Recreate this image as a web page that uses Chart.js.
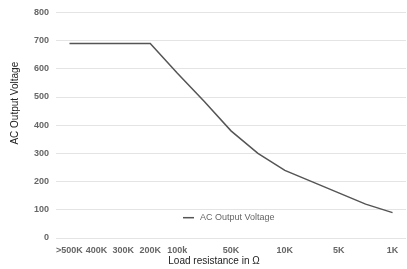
<!DOCTYPE html>
<html>
<head>
<meta charset="utf-8">
<script src="https://cdn.jsdelivr.net/npm/chart.js@4"></script>
<style>
  html, body { margin: 0; padding: 0; background: #fff; }
  #wrap { width: 407px; height: 269px; position: relative; }
</style>
</head>
<body>
<div id="wrap"><canvas id="chart"></canvas></div>
<script>
// load resistance categories (blank ones are unlabeled steps on the axis)
const categories = ['>500K', '400K', '300K', '200K', '100k', '', '50K', '', '10K', '', '5K', '', '1K'];
const voltage = [690, 690, 690, 690, 585, 485, 380, 300, 240, 200, 160, 120, 90];
const yTicks = [0, 100, 200, 300, 400, 500, 600, 700, 800];
const seriesName = 'AC Output Voltage';
const xTitle = 'Load resistance in Ω';
const yTitle = 'AC Output Voltage';

const FONT = '"Liberation Sans", Arial, sans-serif';

// legend + axis titles drawn by hand, the original sheet chart puts them off-centre
const extras = {
    id: 'extras',
    afterDraw(chart) {
        let ctx = chart.ctx;
        let area = chart.chartArea;
        ctx.save();

        // legend inside the plot
        let y = chart.scales.y.getPixelForValue(72);
        let x = area.left + 127;
        ctx.strokeStyle = '#555';
        ctx.lineWidth = 1.5;
        ctx.beginPath();
        ctx.moveTo(x, y);
        ctx.lineTo(x + 11, y);
        ctx.stroke();
        ctx.fillStyle = '#666';
        ctx.font = '9px ' + FONT;
        ctx.textBaseline = 'middle';
        ctx.textAlign = 'left';
        ctx.fillText(chart.data.datasets[0].label, x + 17, y);

        // axis titles
        ctx.fillStyle = '#222';
        ctx.font = '10px ' + FONT;
        ctx.textAlign = 'center';
        ctx.fillText(xTitle, (area.left + area.right) / 2 - 17, area.bottom + 23);

        ctx.translate(15, (area.top + area.bottom) / 2 - 22);
        ctx.rotate(-Math.PI / 2);
        ctx.fillText(yTitle, 0, 0);
        ctx.restore();
    }
};

const ctx = document.getElementById('chart').getContext('2d');
const myChart = new Chart(ctx, {
    type: 'line',
    data: {
        labels: categories,
        datasets: [{
            label: seriesName,
            data: voltage,
            borderColor: '#555555',
            backgroundColor: '#555555',
            borderWidth: 1.5,
            pointRadius: 0,
            tension: 0,
            fill: false
        }]
    },
    options: {
        responsive: true,
        maintainAspectRatio: false,
        animation: false,
        layout: { padding: { top: -4, right: 1, left: 27, bottom: 6 } },
        plugins: {
            legend: { display: false },
            tooltip: { enabled: false }
        },
        scales: {
            x: {
                offset: true,
                grid: { display: false, drawTicks: false },
                border: { display: false },
                ticks: {
                    autoSkip: false,
                    maxRotation: 0,
                    padding: 8,
                    color: '#666',
                    font: { family: FONT, size: 9, weight: 'bold', lineHeight: 1 }
                }
            },
            y: {
                min: 0,
                max: 800,
                afterBuildTicks: (axis) => { axis.ticks = yTicks.map(v => ({ value: v })); },
                grid: { color: '#e4e4e4', drawTicks: false },
                border: { display: false },
                ticks: {
                    padding: 7,
                    color: '#666',
                    font: { family: FONT, size: 9, weight: 'bold' }
                }
            }
        }
    },
    plugins: [extras]
});
</script>
</body>
</html>
